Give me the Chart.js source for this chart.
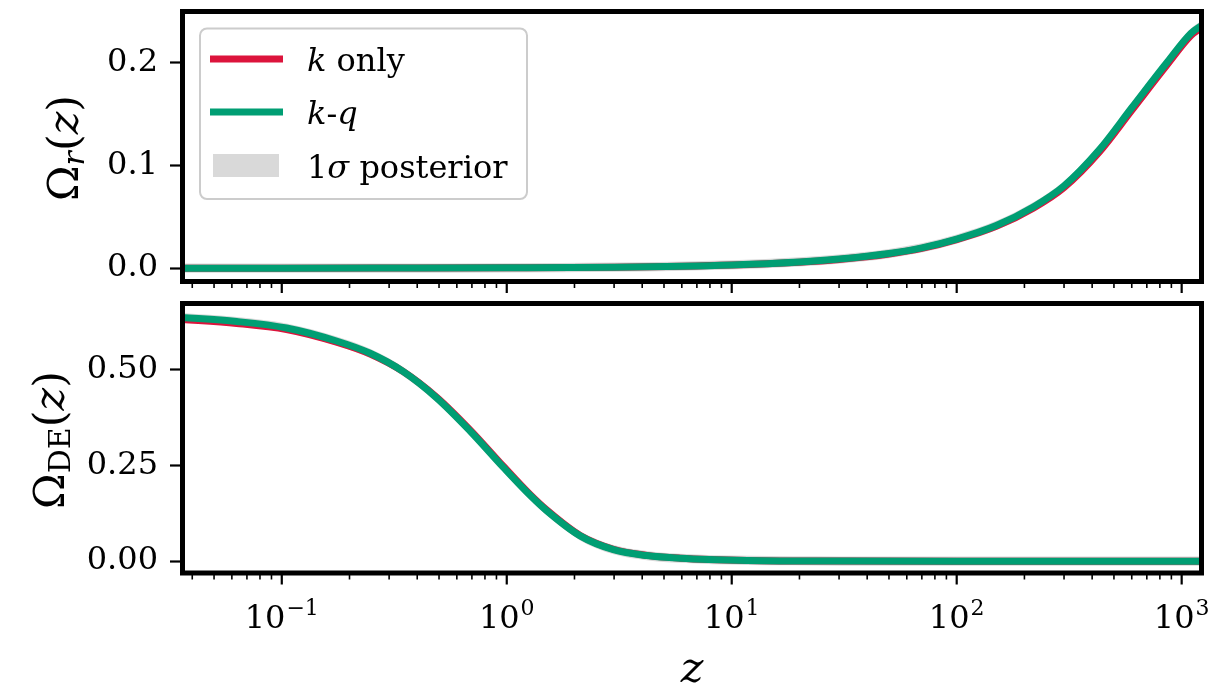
<!DOCTYPE html>
<html>
<head>
<meta charset="utf-8">
<script src="https://cdn.jsdelivr.net/npm/chart.js@4.4.1/dist/chart.umd.min.js"></script>
<style>
  html, body { margin: 0; padding: 0; background: #fff; }
  #wrap { position: relative; width: 1232px; height: 688px; }
  canvas { position: absolute; left: 0; }
  #top { top: 0; }
  #bottom { top: 296px; }
</style>
</head>
<body>
<div id="wrap">
  <canvas id="top" width="1232" height="296"></canvas>
  <canvas id="bottom" width="1232" height="392"></canvas>
</div>
<script>
// radiation fraction Omega_r(z)
const zRad   = [0.035, 0.1, 0.3, 1, 3, 10, 20, 30, 50, 70, 100, 150, 220, 300, 430, 600, 860, 1100, 1225];
const radKQ  = [0.0000, 0.0000, 0.0001, 0.0003, 0.0009, 0.0031, 0.0060, 0.0088, 0.0142, 0.0197, 0.0283, 0.0415, 0.0598, 0.0800, 0.1150, 0.1560, 0.2000, 0.2285, 0.2360];
const radK   = [0.0000, 0.0000, 0.0001, 0.0003, 0.0009, 0.0030, 0.0058, 0.0085, 0.0138, 0.0192, 0.0277, 0.0406, 0.0586, 0.0784, 0.1128, 0.1535, 0.1975, 0.2262, 0.2338];
const radLo  = [-0.0045, -0.0045, -0.0044, -0.0042, -0.0036, -0.0014, 0.0015, 0.0043, 0.0097, 0.0152, 0.0238, 0.0370, 0.0553, 0.0755, 0.1105, 0.1515, 0.1955, 0.2240, 0.2315];
const radHi  = [0.0045, 0.0045, 0.0046, 0.0048, 0.0054, 0.0076, 0.0105, 0.0133, 0.0187, 0.0242, 0.0328, 0.0460, 0.0643, 0.0845, 0.1195, 0.1605, 0.2045, 0.2330, 0.2405];

// dark energy fraction Omega_DE(z)
const zDE   = [0.035, 0.063, 0.105, 0.175, 0.247, 0.347, 0.489, 0.687, 0.966, 1.27, 1.51, 2.12, 2.98, 4.19, 5.89, 11.7, 30, 100, 1225];
const deKQ  = [0.637, 0.626, 0.609, 0.575, 0.543, 0.495, 0.426, 0.340, 0.245, 0.172, 0.131, 0.066, 0.030, 0.0145, 0.0075, 0.0018, 0.0002, 0, 0];
const deK   = [0.632, 0.621, 0.605, 0.572, 0.541, 0.495, 0.428, 0.343, 0.248, 0.174, 0.133, 0.067, 0.031, 0.0150, 0.0078, 0.0018, 0.0002, 0, 0];
const deLo  = [0.625, 0.614, 0.597, 0.563, 0.531, 0.483, 0.414, 0.328, 0.233, 0.160, 0.119, 0.054, 0.018, 0.0025, -0.0045, -0.0102, -0.0118, -0.012, -0.012];
const deHi  = [0.649, 0.638, 0.621, 0.587, 0.555, 0.507, 0.438, 0.352, 0.257, 0.184, 0.143, 0.078, 0.042, 0.0265, 0.0195, 0.0138, 0.0122, 0.012, 0.012];

// axes
const zMin = 0.0362, zMax = 1225;
const topYTicks = [0, 0.1, 0.2];
const topYLabels = ['0.0', '0.1', '0.2'];
const bottomYTicks = [0, 0.25, 0.5];
const bottomYLabels = ['0.00', '0.25', '0.50'];
const xMajorTicks = [0.1, 1, 10, 100, 1000];
const xMajorExps = ['\u22121', '0', '1', '2', '3'];

const RED = '#dc143c', GREEN = '#009e73', BAND = '#d9d9d9';
const SERIF = '"DejaVu Serif", serif';
const TICK_SIZE = 32;

function pts(xs, ys) { return xs.map((x, i) => ({ x: x, y: ys[i] })); }

// decade + minor tick positions on the log axis
const xAllTicks = [];
for (let e = -2; e <= 3; e++) {
  for (let m = 1; m <= 9; m++) {
    const v = m * Math.pow(10, e);
    if (v >= zMin && v <= zMax) xAllTicks.push({ v: v, major: m === 1 });
  }
}

// band first in the list (so '+1' fill works), drawn underneath via order
function datasets(xs, lo, hi, k, kq) {
  const line = { pointRadius: 0, borderWidth: 7, borderCapStyle: 'butt', cubicInterpolationMode: 'monotone', clip: 0 };
  return [
    Object.assign({}, line, { label: 'band hi', data: pts(xs, hi), borderWidth: 0, fill: '+1', backgroundColor: BAND, order: 3 }),
    Object.assign({}, line, { label: 'band lo', data: pts(xs, lo), borderWidth: 0, fill: false, order: 4 }),
    Object.assign({}, line, { label: 'k only', data: pts(xs, k), borderColor: RED, fill: false, order: 2 }),
    Object.assign({}, line, { label: 'k-q', data: pts(xs, kq), borderColor: GREEN, fill: false, order: 1 })
  ];
}

// ticks under the panel and the thick box around it
const framePlugin = {
  id: 'frame',
  afterDraw(chart) {
    const ctx = chart.ctx, a = chart.chartArea, x = chart.scales.x;
    ctx.save();
    ctx.strokeStyle = '#000';
    xAllTicks.forEach(t => {
      const px = x.getPixelForValue(t.v);
      ctx.lineWidth = t.major ? 2.2 : 1.6;
      ctx.beginPath();
      ctx.moveTo(px, a.bottom);
      ctx.lineTo(px, a.bottom + (t.major ? 11.5 : 6.5));
      ctx.stroke();
    });
    ctx.lineWidth = 5;
    ctx.strokeRect(a.left, a.top, a.right - a.left, a.bottom - a.top);
    ctx.restore();
  }
};

// rotated math-style y label
function yLabel(pieces, baseX, centerY) {
  return {
    id: 'ylabel',
    afterDraw(chart) {
      const ctx = chart.ctx;
      ctx.save();
      ctx.fillStyle = '#000';
      ctx.textBaseline = 'alphabetic';
      let total = 0;
      pieces.forEach(p => {
        ctx.font = (p.it ? 'italic ' : '') + p.size + 'px ' + SERIF;
        p.w = ctx.measureText(p.t).width;
        total += p.w;
      });
      ctx.translate(baseX, centerY);
      ctx.rotate(-Math.PI / 2);
      let cx = -total / 2;
      pieces.forEach(p => {
        ctx.font = (p.it ? 'italic ' : '') + p.size + 'px ' + SERIF;
        ctx.fillText(p.t, cx, p.dy || 0);
        cx += p.w;
      });
      ctx.restore();
    }
  };
}

// mixed roman / italic text run
function drawRun(ctx, parts, x, y, size) {
  parts.forEach(p => {
    ctx.font = (p.it ? 'italic ' : '') + size + 'px ' + SERIF;
    ctx.fillText(p.t, x, y);
    x += ctx.measureText(p.t).width;
  });
}

const legendPlugin = {
  id: 'mathLegend',
  afterDraw(chart) {
    const ctx = chart.ctx;
    const ds = chart.data.datasets;
    ctx.save();
    ctx.beginPath();
    ctx.roundRect(200, 28.5, 327, 170.5, 7);
    ctx.fillStyle = 'rgba(255,255,255,0.8)';
    ctx.fill();
    ctx.lineWidth = 2;
    ctx.strokeStyle = '#cccccc';
    ctx.stroke();

    ctx.lineWidth = 7;
    ctx.lineCap = 'butt';
    ctx.strokeStyle = ds[2].borderColor;
    ctx.beginPath(); ctx.moveTo(210, 59); ctx.lineTo(283, 59); ctx.stroke();
    ctx.strokeStyle = ds[3].borderColor;
    ctx.beginPath(); ctx.moveTo(210, 112); ctx.lineTo(283, 112); ctx.stroke();
    ctx.fillStyle = ds[0].backgroundColor;
    ctx.fillRect(213, 154, 66, 23);

    ctx.fillStyle = '#000';
    ctx.textBaseline = 'alphabetic';
    drawRun(ctx, [{ t: 'k', it: true }, { t: ' only' }], 307, 71, TICK_SIZE);
    drawRun(ctx, [{ t: 'k', it: true }, { t: '-' }, { t: 'q', it: true }], 307, 124, TICK_SIZE);
    drawRun(ctx, [{ t: '1' }, { t: '\u03c3', it: true }, { t: ' posterior' }], 307, 178, TICK_SIZE);
    ctx.restore();
  }
};

const xLabelPlugin = {
  id: 'xlabels',
  afterDraw(chart) {
    const ctx = chart.ctx, a = chart.chartArea, x = chart.scales.x;
    ctx.save();
    ctx.fillStyle = '#000';
    ctx.textBaseline = 'alphabetic';
    xMajorTicks.forEach((v, i) => {
      ctx.font = TICK_SIZE + 'px ' + SERIF;
      const w1 = ctx.measureText('10').width;
      ctx.font = '22px ' + SERIF;
      const w2 = ctx.measureText(xMajorExps[i]).width;
      const left = x.getPixelForValue(v) - (w1 + w2 + 1) / 2;
      ctx.font = TICK_SIZE + 'px ' + SERIF;
      ctx.fillText('10', left, a.bottom + 55);
      ctx.font = '22px ' + SERIF;
      ctx.fillText(xMajorExps[i], left + w1 + 1, a.bottom + 42);
    });
    ctx.font = 'italic 43px ' + SERIF;
    ctx.textAlign = 'center';
    ctx.fillText('z', (a.left + a.right) / 2, a.bottom + 109);
    ctx.restore();
  }
};

function panelOptions(yMin, yMax, yTicks, yLabels, padTop, xAxisHeight) {
  return {
    responsive: false,
    animation: false,
    events: [],
    layout: { padding: { left: 0, right: 30.5, top: padTop, bottom: 0 } },
    plugins: { legend: { display: false }, tooltip: { enabled: false } },
    scales: {
      x: {
        type: 'logarithmic',
        min: zMin,
        max: zMax,
        ticks: { display: false },
        grid: { display: false },
        border: { display: false },
        afterFit: s => { s.height = xAxisHeight; s.paddingLeft = 0; s.paddingRight = 0; }
      },
      y: {
        min: yMin,
        max: yMax,
        afterBuildTicks: s => { s.ticks = yTicks.map(v => ({ value: v })); },
        ticks: {
          callback: (v, i) => yLabels[i],
          color: '#000',
          padding: 12,
          font: { family: SERIF, size: TICK_SIZE }
        },
        grid: { drawOnChartArea: false, drawTicks: true, tickLength: 12.5, tickWidth: 2.2, tickColor: '#000' },
        border: { display: false },
        afterFit: s => { s.width = 182.5; s.paddingTop = 0; s.paddingBottom = 0; }
      }
    }
  };
}

new Chart(document.getElementById('top'), {
  type: 'line',
  data: { datasets: datasets(zRad, radLo, radHi, radK, radKQ) },
  options: panelOptions(-0.013, 0.2496, topYTicks, topYLabels, 11.5, 296 - 281.5),
  plugins: [framePlugin, legendPlugin,
    yLabel([{ t: '\u03a9', size: 43 }, { t: 'r', size: 30, it: true, dy: 6 },
            { t: '(', size: 43 }, { t: 'z', size: 43, it: true }, { t: ')', size: 43 }], 78, 148)]
});

new Chart(document.getElementById('bottom'), {
  type: 'line',
  data: { datasets: datasets(zDE, deLo, deHi, deK, deKQ) },
  options: panelOptions(-0.031, 0.673, bottomYTicks, bottomYLabels, 7.5, 392 - 277),
  plugins: [framePlugin, xLabelPlugin,
    yLabel([{ t: '\u03a9', size: 43 }, { t: 'DE', size: 30, dy: 6 },
            { t: '(', size: 43 }, { t: 'z', size: 43, it: true }, { t: ')', size: 43 }], 64, 144)]
});
</script>
</body>
</html>
